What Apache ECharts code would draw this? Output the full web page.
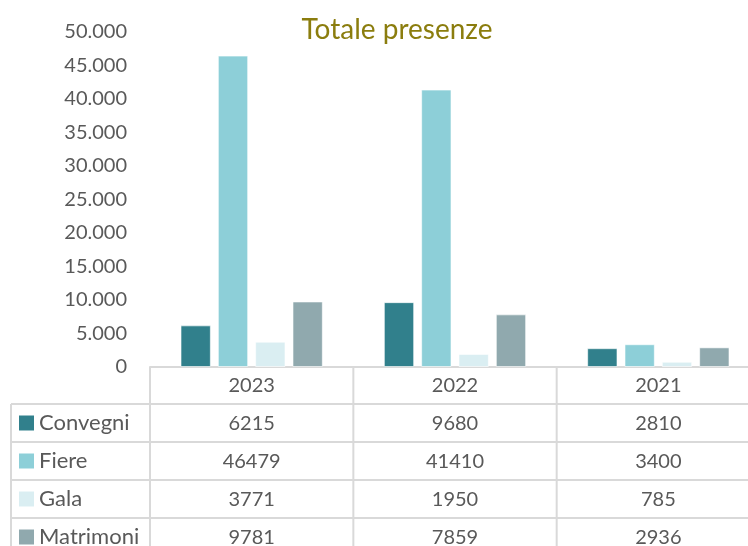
<!DOCTYPE html>
<html>
<head>
<meta charset="utf-8">
<script src="https://cdn.jsdelivr.net/npm/echarts@6/dist/echarts.min.js"></script>
<style>
  html, body { margin: 0; padding: 0; background: #fff; }
  #chart { width: 748px; height: 546px; }
</style>
</head>
<body>
<div id="chart"></div>
<script>
// dati
const years = ["2023", "2022", "2021"];
const seriesNames = ["Convegni", "Fiere", "Gala", "Matrimoni"];
const convegni = [6215, 9680, 2810];
const fiere = [46479, 41410, 3400];
const gala = [3771, 1950, 785];
const matrimoni = [9781, 7859, 2936];
const colors = ["#31808c", "#8dcfd8", "#daeef2", "#90a9ae"];

const values = [convegni, fiere, gala, matrimoni];
const font = "Lato";
const textColor = "#595959";
const lineColor = "#d9d9d9";

const myChart = echarts.init(document.getElementById("chart"));

myChart.setOption({
  animation: false,
  title: {
    text: "Totale presenze",
    left: 392,
    top: 11,
    textAlign: "center",
    textStyle: { color: "#8b7d0e", fontSize: 28, fontWeight: "normal", fontFamily: font },
  },
  grid: {
    left: 150,
    top: 32,
    width: 610,
    height: 335,
    outerBoundsMode: "none",
  },
  xAxis: {
    type: "category",
    data: years,
    axisLine: { show: true, lineStyle: { color: lineColor, width: 2 } },
    axisTick: { show: false },
    axisLabel: { show: false },
  },
  yAxis: {
    type: "value",
    min: 0,
    max: 50000,
    interval: 5000,
    axisLine: { show: false },
    axisTick: { show: false },
    splitLine: { show: false },
    axisLabel: {
      margin: 23,
      color: textColor,
      fontSize: 20,
      fontFamily: font,
      formatter: function (v) {
        return v === 0 ? "0" : String(v).replace(/\B(?=(\d{3})+(?!\d))/g, ".");
      },
    },
  },
  series: seriesNames.map(function (name, i) {
    return {
      name: name,
      type: "bar",
      data: values[i],
      barGap: "23%",
      barCategoryGap: "30%",
      itemStyle: { color: colors[i], borderColor: "rgba(255,255,255,0.6)", borderWidth: 1 },
    };
  }),
});

// tabella dati sotto il grafico
const centers = years.map(function (y) {
  return myChart.convertToPixel({ xAxisIndex: 0 }, y);
});
const catW = centers[1] - centers[0];
const top0 = myChart.convertToPixel({ yAxisIndex: 0 }, 0);
const headerH = 37;
const rowH = 38;
const tableLeft = 11;
const plotLeft = centers[0] - catW / 2;
const plotRight = centers[centers.length - 1] + catW / 2;

const g = [];
const line = function (x1, y1, x2, y2) {
  g.push({
    type: "line",
    shape: { x1: x1, y1: y1, x2: x2, y2: y2 },
    style: { stroke: lineColor, lineWidth: 2 },
  });
};

// righe orizzontali
for (let r = 0; r <= seriesNames.length; r++) {
  const y = top0 + headerH + r * rowH;
  line(tableLeft, y, plotRight, y);
}
// colonne verticali
line(tableLeft, top0 + headerH, tableLeft, 560);
for (let c = 0; c <= years.length; c++) {
  const x = plotLeft + c * catW;
  line(x, top0, x, 560);
}
// intestazione anni
years.forEach(function (y, c) {
  g.push({
    type: "text",
    x: centers[c],
    y: top0 + headerH / 2,
    style: { text: y, align: "center", verticalAlign: "middle", fill: textColor, fontSize: 20, fontFamily: font },
  });
});
// righe delle serie
seriesNames.forEach(function (name, r) {
  const cy = top0 + headerH + r * rowH + rowH / 2;
  g.push({
    type: "rect",
    shape: { x: 19, y: cy - 7.5, width: 15, height: 15 },
    style: { fill: colors[r] },
  });
  g.push({
    type: "text",
    x: 39,
    y: cy,
    style: { text: name, align: "left", verticalAlign: "middle", fill: textColor, fontSize: 22, fontFamily: font },
  });
  values[r].forEach(function (v, c) {
    g.push({
      type: "text",
      x: centers[c],
      y: cy + 1,
      style: { text: String(v), align: "center", verticalAlign: "middle", fill: textColor, fontSize: 20, fontFamily: font },
    });
  });
});

myChart.setOption({ graphic: g });
</script>
</body>
</html>
